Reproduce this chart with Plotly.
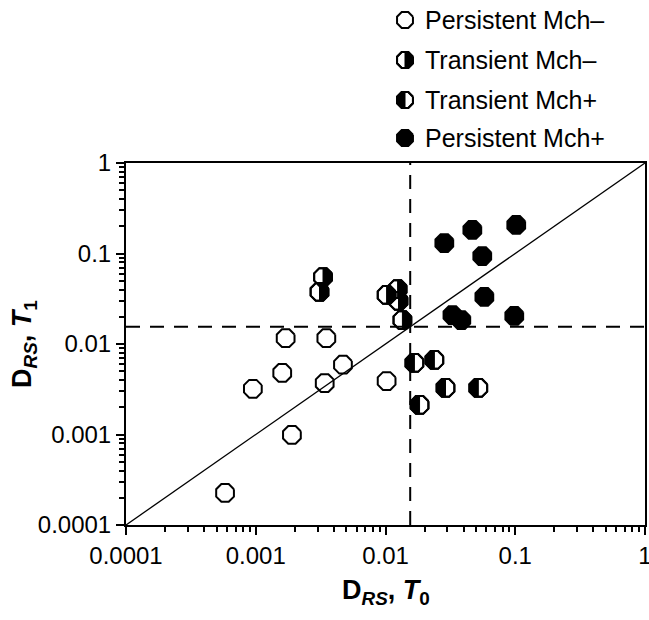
import numpy as np
import plotly.graph_objects as go

# ---------------- data ----------------
pers_minus_x = [0.00058, 0.00095, 0.0019, 0.0016, 0.0034, 0.0047, 0.0017, 0.0035, 0.0102]
pers_minus_y = [0.000226, 0.0032, 0.00099, 0.0048, 0.0037, 0.0059, 0.0116, 0.0116, 0.0039]

trans_minus_x = [0.0033, 0.0031, 0.0102, 0.0124, 0.0126, 0.0135]
trans_minus_y = [0.055, 0.0376, 0.0348, 0.0405, 0.0299, 0.0184]

trans_plus_x = [0.0167, 0.0238, 0.0290, 0.0519, 0.0183]
trans_plus_y = [0.00617, 0.00666, 0.00327, 0.00327, 0.00212]

pers_plus_x = [0.0284, 0.0467, 0.1018, 0.0557, 0.0578, 0.0328, 0.0384, 0.0983]
pers_plus_y = [0.1306, 0.182, 0.2066, 0.0938, 0.0331, 0.0209, 0.0184, 0.0204]

threshold = 0.0155
axis_min, axis_max = 0.0001, 1.0
tick_vals = [0.0001, 0.001, 0.01, 0.1, 1]
tick_text = ["0.0001", "0.001", "0.01", "0.1", "1"]
legend_names = ["Persistent Mch\u2013", "Transient Mch\u2013", "Transient Mch+", "Persistent Mch+"]
x_title = "<b>D<sub><i>RS</i></sub>, <i>T</i><sub>0</sub></b>"
y_title = "<b>D<sub><i>RS</i></sub>, <i>T</i><sub>1</sub></b>"

# ---------------- layout geometry (pixels) ----------------
W, H = 649, 620
PX0, PX1 = 126, 645           # plot area
PY0, PY1 = 163, 525
FONT = "Liberation Sans, Arial, sans-serif"
R = 9.6                       # octagon vertex radius, px
R_LEG = 8.6

decades = np.log10(axis_max) - np.log10(axis_min)
kx = decades / (PX1 - PX0)
ky = decades / (PY1 - PY0)

C = np.cos(np.deg2rad(22.5))
FULL = [(np.cos(a), np.sin(a)) for a in np.deg2rad(22.5 + 45 * np.arange(8))]


def half_pts(side):
    angs = np.deg2rad([-67.5, -22.5, 22.5, 67.5])
    pts = [(0, -C)] + [(np.cos(a), np.sin(a)) for a in angs] + [(0, C)]
    return [(side * u, v) for u, v in pts]


def log_polys(xs, ys, unit, r):
    px, py = [], []
    for x, y in zip(xs, ys):
        lx, ly = np.log10(x), np.log10(y)
        for u, v in unit + [unit[0]]:
            px.append(10 ** (lx + r * u * kx))
            py.append(10 ** (ly + r * v * ky))
        px.append(None)
        py.append(None)
    return px, py


def pix_polys(xs, ys, unit, r):
    px, py = [], []
    for x, y in zip(xs, ys):
        for u, v in unit + [unit[0]]:
            px.append(x + r * u)
            py.append(y - r * v)
        px.append(None)
        py.append(None)
    return px, py


fig = go.Figure()


def add_poly(px, py, fill, lw, xa="x", ya="y"):
    fig.add_trace(go.Scatter(x=px, y=py, mode="lines", fill="toself",
                             fillcolor=fill, line=dict(color="black", width=lw),
                             xaxis=xa, yaxis=ya, hoverinfo="skip", showlegend=False))


groups = [
    (pers_minus_x, pers_minus_y, None, "white"),
    (trans_minus_x, trans_minus_y, 1, "white"),
    (trans_plus_x, trans_plus_y, -1, "white"),
    (pers_plus_x, pers_plus_y, None, "black"),
]
for xs, ys, side, base in groups:
    px, py = log_polys(xs, ys, FULL, R)
    add_poly(px, py, base, 2)
    if side is not None:
        hx, hy = log_polys(xs, ys, half_pts(side), R)
        add_poly(hx, hy, "black", 1)
        add_poly(px, py, "rgba(0,0,0,0)", 2)

# reference lines
fig.add_trace(go.Scatter(x=[axis_min, axis_max], y=[axis_min, axis_max], mode="lines",
                         line=dict(color="black", width=1.3), hoverinfo="skip", showlegend=False))
fig.add_trace(go.Scatter(x=[axis_min, axis_max], y=[threshold, threshold], mode="lines",
                         line=dict(color="black", width=2, dash="14px,10px"),
                         hoverinfo="skip", showlegend=False))
fig.add_trace(go.Scatter(x=[threshold, threshold], y=[axis_min, axis_max], mode="lines",
                         line=dict(color="black", width=2, dash="14px,10px"),
                         hoverinfo="skip", showlegend=False))

# manual legend in pixel axes
leg_x = 405
leg_y = [20, 60, 100, 138]
leg_text_x = 423
leg_styles = [(None, "white"), (1, "white"), (-1, "white"), (None, "black")]
for (side, base), ly, name in zip(leg_styles, leg_y, legend_names):
    px, py = pix_polys([leg_x], [ly], FULL, R_LEG)
    add_poly(px, py, base, 2, "x2", "y2")
    if side is not None:
        hx, hy = pix_polys([leg_x], [ly], half_pts(side), R_LEG)
        add_poly(hx, hy, "black", 1, "x2", "y2")
        add_poly(px, py, "rgba(0,0,0,0)", 2, "x2", "y2")
    fig.add_annotation(x=leg_text_x, y=ly, xref="x2", yref="y2", text=name,
                       showarrow=False, xanchor="left", yanchor="middle",
                       font=dict(family=FONT, size=25, color="black"))

axis_common = dict(
    type="log", range=[np.log10(axis_min), np.log10(axis_max)],
    tickmode="array", tickvals=tick_vals, ticktext=tick_text,
    ticks="outside", ticklen=8, tickwidth=2, tickcolor="black",
    ticklabeloverflow="allow",
    minor=dict(ticks="outside", ticklen=5, tickwidth=1.5, tickcolor="black",
               tickmode="array",
               tickvals=[m * 10.0 ** e for e in range(-4, 0) for m in range(2, 10)]),
    showline=True, linecolor="black", linewidth=2, mirror=True,
    showgrid=False, zeroline=False,
    tickfont=dict(family=FONT, size=24, color="black"),
)

fig.update_layout(
    width=W, height=H,
    margin=dict(l=0, r=0, t=0, b=0, autoexpand=False),
    paper_bgcolor="white", plot_bgcolor="rgba(0,0,0,0)",
    showlegend=False,
    xaxis=dict(domain=[PX0 / W, PX1 / W], anchor="y", **axis_common),
    yaxis=dict(domain=[1 - PY1 / H, 1 - PY0 / H], anchor="x", **axis_common),
    xaxis2=dict(domain=[0, 1], range=[0, W], visible=False, anchor="y2", fixedrange=True),
    yaxis2=dict(domain=[0, 1], range=[H, 0], visible=False, anchor="x2", fixedrange=True),
)

fig.add_annotation(x=(PX0 + PX1) / 2, y=592, xref="x2", yref="y2", text=x_title,
                   showarrow=False, xanchor="center", yanchor="middle",
                   font=dict(family=FONT, size=27, color="black"))
fig.add_annotation(x=24, y=(PY0 + PY1) / 2, xref="x2", yref="y2", text=y_title,
                   showarrow=False, xanchor="center", yanchor="middle", textangle=-90,
                   font=dict(family=FONT, size=27, color="black"))

fig.write_html(
    "out.html",
    config={"displayModeBar": False},
    post_script="document.body.style.margin='0';document.body.style.overflow='hidden';",
)
